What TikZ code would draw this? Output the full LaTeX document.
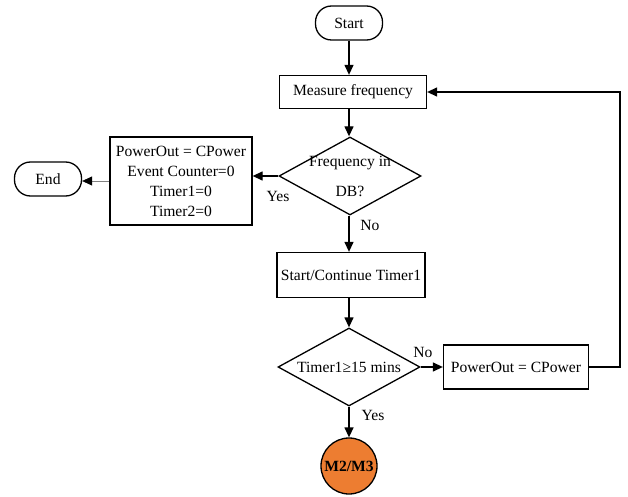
\documentclass[tikz,border=0pt]{standalone}
\usepackage{fontspec}
\setmainfont{Liberation Serif}
\usetikzlibrary{shapes.geometric,arrows.meta}
\definecolor{morange}{RGB}{237,125,49}
\begin{document}
\begin{tikzpicture}[x=1pt,y=-1pt,
  every node/.style={font=\fontsize{15.6}{20}\selectfont},
  terminal/.style={draw,line width=1.3pt,rounded corners=16pt,minimum width=67pt,minimum height=34pt,inner sep=0pt},
  procbox/.style={draw,line width=1.3pt,inner sep=2pt,align=center},
  decision/.style={draw,diamond,line width=1.3pt,minimum width=142pt,minimum height=78pt,inner sep=0pt},
  connector/.style={draw,circle,line width=1.3pt,fill=morange,minimum size=56pt,inner sep=0pt,font=\fontsize{15.6}{20}\selectfont\bfseries},
  flow/.style={line width=1.3pt,-{Triangle[length=10pt,width=9pt]}},
  thinflow/.style={line width=0.7pt,draw=gray,-{Triangle[length=10pt,width=9pt,color=black]}},
  lbl/.style={inner sep=0pt}]
\useasboundingbox (0,0) rectangle (628,497);

% main column
\node[terminal] (start) at (349,23) {Start};
\node[procbox,minimum width=147pt,minimum height=33pt] (meas) at (353,92) {Measure frequency};
\node[decision,label={[align=center,font=\fontsize{15.6}{30}\selectfont]center:Frequency in\\DB?}] (dec1) at (350,176) {};
\node[procbox,minimum width=142pt,minimum height=88pt] (reset) at (181,181) {PowerOut = CPower\\Event Counter=0\\Timer1=0\\Timer2=0};
\node[terminal] (end) at (48,179) {End};
\node[procbox,minimum width=148pt,minimum height=45pt] (timer) at (351,275) {Start/Continue Timer1};
\node[decision,label={center:Timer1≥15 mins}] (dec2) at (349,367) {};
\node[procbox,minimum width=145pt,minimum height=44pt] (pwr) at (516,367) {PowerOut = CPower};
\node[connector] (m23) at (349,466) {M2/M3};

% connectors
\draw[flow] (start) -- (start |- meas.north);
\draw[flow] (meas.south -| start) -- (dec1.north -| start);
\draw[flow] (dec1.west) -- (dec1.west -| reset.east);
\draw[thinflow] (reset.west) -- (reset.west -| end.east);
\draw[flow] (dec1.south -| start) -- (timer.north -| start);
\draw[flow] (timer.south -| start) -- (dec2.north);
\draw[flow] (dec2.east) -- (pwr.west);
\draw[flow] (dec2.south) -- (m23.north);
\coordinate (fbcorner) at (620,92);
\draw[flow] (pwr.east) -| (fbcorner) -- (meas.east);

% branch labels
\node[lbl] at (278,196) {Yes};
\node[lbl] at (370,225) {No};
\node[lbl] at (423,352) {No};
\node[lbl] at (373,415) {Yes};
\end{tikzpicture}
\end{document}
